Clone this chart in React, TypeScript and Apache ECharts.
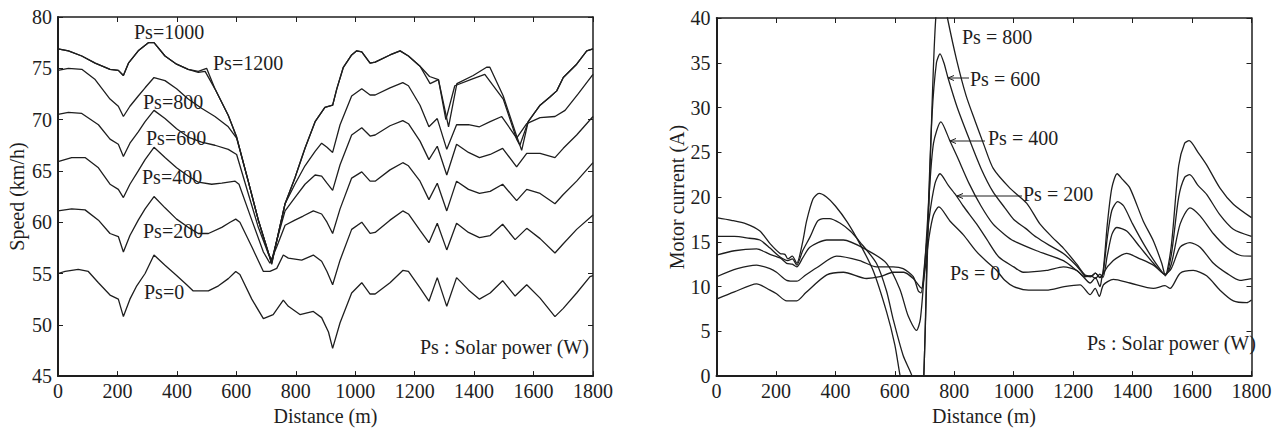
import React, { useEffect, useRef } from "react";
import * as echarts from "echarts";

const FONT = '"Liberation Serif", "Times New Roman", serif';
const INK = "#1e1e1e";

// ---------- Left chart: Speed (km/h) vs Distance (m) ----------
const speedTicksY = { min: 45, max: 80, interval: 5 };
const distanceTicks = { min: 0, max: 1800, interval: 200 };

const speedPs0: [number, number][] = [[0,55.0],[24,55.2],[68,55.4],[102,55.2],[136,54.1],[175,52.9],[203,52.5],[220,50.8],[242,52.5],[265,53.8],[293,55.0],[323,56.8],[360,55.8],[399,54.8],[433,53.9],[455,53.3],[506,53.3],[540,53.8],[573,54.5],[598,55.2],[612,54.9],[652,52.5],[691,50.6],[724,51.0],[758,52.4],[775,51.8],[814,51.0],[859,51.3],[887,50.7],[910,49.3],[924,47.7],[949,50.2],[988,53.1],[1022,54.1],[1050,53.0],[1067,53.0],[1117,54.1],[1160,55.3],[1179,55.2],[1218,53.6],[1248,52.3],[1276,54.6],[1308,51.8],[1341,54.6],[1381,53.4],[1418,52.5],[1454,53.1],[1496,54.3],[1538,52.8],[1577,53.9],[1622,52.6],[1672,50.8],[1700,51.6],[1745,53.1],[1790,54.7],[1800,54.8]];
const speedPs200: [number, number][] = [[0,61.1],[46,61.3],[91,61.2],[136,60.2],[175,58.9],[203,58.6],[220,57.1],[242,58.7],[270,60.2],[293,61.3],[323,62.5],[360,61.4],[399,60.3],[438,59.5],[472,58.9],[506,58.9],[551,59.5],[579,60.0],[598,60.3],[612,60.0],[652,57.6],[691,55.2],[713,55.2],[736,55.5],[758,56.8],[775,56.5],[820,56.3],[859,56.8],[887,56.2],[905,55.2],[924,53.9],[949,56.3],[988,59.3],[1022,60.0],[1050,58.9],[1067,59.0],[1117,60.2],[1160,61.1],[1179,60.8],[1218,59.2],[1248,58.0],[1276,59.9],[1308,57.3],[1341,59.9],[1381,59.0],[1418,58.5],[1454,58.7],[1496,59.8],[1538,58.3],[1577,59.4],[1622,58.4],[1672,57.0],[1700,57.9],[1745,59.3],[1800,60.7]];
const speedPs400: [number, number][] = [[0,65.9],[46,66.3],[91,66.3],[136,65.3],[175,63.7],[203,63.2],[220,62.4],[242,63.7],[270,65.0],[293,66.1],[323,67.3],[360,66.3],[399,65.3],[438,64.5],[472,63.9],[517,63.7],[551,63.8],[596,64.0],[609,63.7],[652,60.2],[691,57.1],[713,56.0],[736,57.6],[764,59.7],[797,60.2],[825,60.6],[859,61.1],[887,60.8],[905,60.0],[924,58.9],[949,61.3],[988,64.3],[1022,64.9],[1050,64.0],[1067,64.0],[1117,65.1],[1160,65.8],[1179,65.5],[1218,64.0],[1248,62.2],[1276,63.8],[1308,61.1],[1341,64.0],[1381,63.2],[1418,62.8],[1454,63.0],[1496,63.7],[1543,62.1],[1577,63.2],[1622,62.8],[1672,61.8],[1700,62.7],[1745,64.0],[1800,65.8]];
const speedPs600: [number, number][] = [[0,70.5],[35,70.7],[80,70.6],[136,69.5],[175,68.1],[203,67.6],[220,66.4],[242,67.7],[270,68.8],[293,69.8],[323,70.9],[360,70.1],[399,69.1],[438,68.3],[483,67.8],[528,67.5],[573,67.1],[601,66.6],[640,62.8],[674,59.5],[708,56.9],[719,56.3],[736,58.2],[764,61.1],[797,62.4],[831,63.7],[865,64.6],[887,64.5],[905,63.8],[924,63.1],[949,65.6],[988,68.5],[1022,69.2],[1050,68.4],[1067,68.5],[1117,69.4],[1160,69.9],[1179,69.6],[1218,67.9],[1248,66.1],[1276,67.4],[1308,64.6],[1341,67.6],[1381,66.8],[1418,66.3],[1454,66.6],[1496,67.2],[1543,65.4],[1577,66.7],[1622,66.7],[1672,66.3],[1700,67.2],[1745,68.5],[1800,70.3]];
const speedPs800: [number, number][] = [[0,74.8],[35,75.0],[80,74.9],[125,73.9],[175,72.0],[203,71.3],[220,70.3],[242,71.3],[270,72.3],[293,73.1],[323,74.1],[360,73.8],[399,73.0],[438,72.0],[483,71.1],[528,70.3],[573,69.3],[601,68.2],[640,64.0],[674,60.2],[708,57.0],[719,56.1],[736,58.2],[764,61.8],[797,63.7],[831,65.5],[865,66.9],[887,67.7],[905,67.3],[924,66.8],[949,69.5],[988,72.3],[1022,73.0],[1050,72.4],[1067,72.4],[1117,73.1],[1160,73.6],[1179,73.3],[1218,71.4],[1248,69.3],[1276,70.1],[1308,67.1],[1341,69.5],[1381,69.5],[1418,69.3],[1454,69.8],[1493,70.3],[1543,68.2],[1577,69.6],[1622,70.2],[1672,70.3],[1706,70.9],[1750,72.5],[1800,74.4]];
const speedPs1000: [number, number][] = [[0,76.9],[35,76.7],[80,76.2],[125,75.5],[175,74.9],[203,74.8],[220,74.3],[237,75.5],[270,76.7],[304,77.5],[323,77.5],[360,76.2],[399,75.4],[438,74.9],[472,74.6],[495,74.7],[528,73.0],[573,70.4],[601,68.3],[640,64.0],[674,60.2],[708,57.0],[719,55.9],[736,58.2],[764,61.8],[797,64.3],[831,67.2],[865,69.8],[898,71.2],[924,71.4],[938,73.0],[960,75.1],[988,76.3],[1005,76.7],[1022,76.6],[1050,75.5],[1067,75.6],[1117,76.3],[1151,76.7],[1179,76.2],[1218,75.2],[1252,73.5],[1280,73.9],[1314,69.3],[1342,73.5],[1397,74.3],[1442,75.1],[1453,75.1],[1498,72.3],[1543,68.4],[1560,67.0],[1582,69.8],[1622,71.4],[1655,72.2],[1678,72.8],[1700,74.1],[1745,75.4],[1779,76.7],[1800,76.9]];
const speedPs1200: [number, number][] = [[0,76.9],[35,76.7],[80,76.2],[125,75.5],[175,74.9],[203,74.8],[220,74.3],[237,75.5],[270,76.7],[304,77.5],[323,77.5],[360,76.2],[399,75.4],[438,74.9],[472,74.7],[500,75.0],[528,73.0],[573,70.4],[601,68.3],[640,64.0],[674,60.2],[708,57.0],[719,56.0],[736,58.2],[764,61.8],[797,64.3],[831,67.2],[865,69.8],[898,71.2],[924,71.4],[938,73.0],[960,75.1],[988,76.3],[1005,76.7],[1022,76.6],[1050,75.5],[1067,75.6],[1117,76.3],[1151,76.7],[1179,76.2],[1218,75.2],[1250,74.2],[1280,73.9],[1305,70.0],[1335,73.3],[1397,74.0],[1436,74.4],[1498,72.0],[1543,68.1],[1554,67.5],[1582,69.8],[1622,71.4],[1655,72.2],[1678,72.8],[1700,74.1],[1745,75.4],[1779,76.7],[1800,76.9]];

// ---------- Right chart: Motor current (A) vs Distance (m) ----------
const currentTicksY = { min: 0, max: 40, interval: 5 };

const currentPs800: [number, number][] = [[0,17.7],[50,17.4],[100,17.0],[146,16.2],[180,14.8],[214,13.7],[230,13.6],[240,13.1],[255,13.4],[270,12.6],[290,15.0],[303,17.3],[325,19.8],[345,20.4],[370,20.0],[400,19.0],[440,17.2],[482,14.8],[527,11.8],[572,7.2],[600,3.5],[618,0],[650,-5],[680,-8],[695,-2],[710,14],[725,30],[740,41],[760,43],[777,40],[808,35.3],[840,31.3],[870,28.5],[900,25.8],[931,23.2],[987,21.0],[1044,19.3],[1088,17.0],[1130,15.5],[1167,14.3],[1212,12.5],[1240,11.3],[1260,11.2],[1275,11.5],[1290,11.0],[1300,11.5],[1315,17.0],[1330,21.0],[1348,22.6],[1365,22.0],[1391,21.0],[1436,17.3],[1470,15.1],[1498,12.6],[1510,11.2],[1530,14.5],[1555,23.5],[1575,26.0],[1590,26.3],[1620,25.0],[1649,23.6],[1694,21.0],[1739,19.2],[1800,17.7]];
const currentPs600: [number, number][] = [[0,15.6],[60,15.6],[110,15.4],[146,15.2],[180,14.3],[214,13.3],[240,12.9],[255,13.1],[270,12.4],[290,14.0],[314,15.5],[340,17.3],[359,17.6],[380,17.6],[415,17.1],[450,16.2],[482,15.0],[538,12.6],[572,9.5],[594,6.4],[628,2.3],[658,0],[680,-3],[695,-2],[710,16],[725,29],[740,35],[752,36],[765,35],[779,33.3],[810,30.0],[850,26.5],[890,23.2],[930,20.6],[970,18.8],[1000,17.5],[1040,16.5],[1077,15.5],[1120,14.6],[1167,13.7],[1212,12.3],[1240,11.2],[1260,11.1],[1275,11.5],[1290,11.0],[1300,11.4],[1315,15.5],[1330,18.5],[1350,19.5],[1370,19.0],[1400,17.0],[1440,14.6],[1480,12.5],[1510,11.3],[1530,13.5],[1555,20.0],[1575,22.2],[1592,22.5],[1620,21.3],[1649,20.3],[1694,18.0],[1739,16.4],[1800,15.6]];
const currentPs400: [number, number][] = [[0,13.5],[60,14.0],[135,14.2],[180,13.6],[214,13.2],[236,12.6],[255,12.5],[270,12.2],[290,13.2],[314,14.4],[371,15.2],[427,15.2],[505,14.1],[572,12.6],[617,9.7],[645,6.7],[673,5.1],[686,6.4],[700,12],[715,20],[730,26],[755,28.4],[785,26.3],[810,24.5],[850,21.5],[890,19.0],[930,17.0],[970,15.8],[1000,15.1],[1077,14.0],[1167,12.9],[1212,11.8],[1240,11.1],[1260,11.2],[1275,10.9],[1290,11.4],[1300,11.0],[1315,13.5],[1330,15.8],[1346,16.6],[1380,16.2],[1425,14.4],[1470,12.6],[1510,11.3],[1530,12.5],[1560,17.0],[1593,18.8],[1627,17.9],[1672,15.9],[1716,14.4],[1761,13.5],[1800,13.4]];
const currentPs200: [number, number][] = [[0,11.1],[70,12.0],[135,12.4],[180,12.0],[202,11.6],[236,10.7],[270,10.6],[300,11.3],[337,12.1],[404,13.4],[482,12.9],[538,12.2],[594,12.2],[628,12.0],[662,11.1],[679,9.5],[688,9.3],[700,12.5],[715,17.5],[735,21.5],[752,22.6],[780,21.3],[806,20.2],[830,19.0],[875,17.0],[909,15.3],[950,13.3],[1000,12.2],[1032,11.6],[1111,11.8],[1167,12.2],[1212,11.8],[1234,11.1],[1257,10.4],[1275,11.0],[1290,10.0],[1300,11.4],[1335,12.9],[1380,13.7],[1425,13.1],[1470,12.4],[1509,11.4],[1530,12.0],[1560,14.4],[1593,14.9],[1627,14.4],[1672,12.6],[1716,11.5],[1761,10.7],[1800,10.9]];
const currentPs0: [number, number][] = [[0,8.6],[60,9.4],[135,10.3],[180,9.6],[202,9.2],[236,8.4],[270,8.4],[300,9.3],[371,11.3],[427,11.6],[505,10.9],[550,11.1],[594,11.6],[630,11.6],[662,10.9],[690,9.8],[700,11.5],[715,15.5],[730,18.0],[748,18.9],[786,17.3],[830,15.8],[875,13.9],[909,12.8],[940,11.9],[970,10.7],[1000,10.0],[1050,9.6],[1110,9.6],[1170,10.0],[1223,10.2],[1257,9.1],[1274,9.8],[1288,8.9],[1302,10.2],[1335,10.8],[1391,10.4],[1470,9.8],[1509,10.1],[1526,9.8],[1560,11.5],[1604,11.8],[1649,11.2],[1694,9.6],[1739,8.4],[1784,8.2],[1800,8.5]];

const speedSeries = [speedPs0, speedPs200, speedPs400, speedPs600, speedPs800, speedPs1000, speedPs1200];
const speedNames = ["Ps=0", "Ps=200", "Ps=400", "Ps=600", "Ps=800", "Ps=1000", "Ps=1200"];
const currentSeries = [currentPs0, currentPs200, currentPs400, currentPs600, currentPs800];
const currentNames = ["Ps = 0", "Ps = 200", "Ps = 400", "Ps = 600", "Ps = 800"];

const FS = 20;
const textStyle = { color: INK, fontFamily: FONT, fontSize: FS };
const plain = (v: number) => String(v);

function xAxes(gridIndex: number) {
  return [
    {
      gridIndex, type: "value", position: "bottom", ...distanceTicks,
      name: "Distance (m)", nameLocation: "middle", nameGap: 26,
      nameTextStyle: textStyle,
      axisLine: { onZero: false, lineStyle: { color: INK, width: 2 } },
      axisTick: { inside: true, length: 5, lineStyle: { color: INK, width: 1 } },
      axisLabel: { ...textStyle, margin: 5, formatter: plain },
      splitLine: { show: false },
    },
    {
      gridIndex, type: "value", position: "top", ...distanceTicks,
      axisLine: { onZero: false, lineStyle: { color: INK, width: 1.5 } },
      axisTick: { inside: true, length: 5, lineStyle: { color: INK, width: 1 } },
      axisLabel: { show: false },
      splitLine: { show: false },
    },
  ];
}

function yAxes(gridIndex: number, ticks: any, name: string, gap: number) {
  return [
    {
      gridIndex, type: "value", position: "left", ...ticks,
      name, nameLocation: "middle", nameGap: gap, nameRotate: 90,
      nameTextStyle: textStyle,
      axisLine: { onZero: false, lineStyle: { color: INK, width: 2 } },
      axisTick: { inside: true, length: 5, lineStyle: { color: INK, width: 1 } },
      axisLabel: { ...textStyle, margin: 6, formatter: plain },
      splitLine: { show: false },
    },
    {
      gridIndex, type: "value", position: "right", ...ticks,
      axisLine: { onZero: false, lineStyle: { color: INK, width: 1.5 } },
      axisTick: { inside: true, length: 5, lineStyle: { color: INK, width: 1 } },
      axisLabel: { show: false },
      splitLine: { show: false },
    },
  ];
}

function label(text: string, x: number, y: number) {
  return {
    type: "text", x, y, z: 100,
    style: { text, fill: INK, font: `${FS}px ${FONT}`, verticalAlign: "middle", align: "left" },
  };
}

function arrow(x1: number, x2: number, y: number) {
  return [
    { type: "line", z: 100, shape: { x1, y1: y, x2, y2: y }, style: { stroke: INK, lineWidth: 1 } },
    {
      type: "polyline", z: 100,
      shape: { points: [[x2 + 6, y - 2.5], [x2, y], [x2 + 6, y + 2.5]] },
      style: { stroke: INK, lineWidth: 1, fill: "none" },
    },
  ];
}

export default function App() {
  const ref = useRef<HTMLDivElement>(null);
  useEffect(() => {
    document.body.style.margin = "0";
    const chart = echarts.init(ref.current!, null, { renderer: "svg" });
    const lineStyle = { color: INK, width: 1.3 };
    const series: any[] = [];
    speedSeries.forEach((d, i) =>
      series.push({
        type: "line", name: speedNames[i], xAxisIndex: 0, yAxisIndex: 0,
        data: d, showSymbol: false, symbol: "none", lineStyle, clip: true,
      })
    );
    currentSeries.forEach((d, i) =>
      series.push({
        type: "line", name: currentNames[i], xAxisIndex: 2, yAxisIndex: 2,
        data: d, showSymbol: false, symbol: "none", lineStyle, clip: true,
        smooth: 0.25,
      })
    );
    chart.setOption({
      animation: false,
      backgroundColor: "#ffffff",
      grid: [
        { left: 58, top: 17, width: 535, height: 364.5 },
        { left: 716.5, top: 18, width: 535, height: 363.5 },
      ],
      xAxis: [...xAxes(0), ...xAxes(1)],
      yAxis: [
        ...yAxes(0, speedTicksY, "Speed (km/h)", 31),
        ...yAxes(1, currentTicksY, "Motor current (A)", 30),
      ],
      series,
      graphic: [
        label("Ps=1000", 134, 32),
        label("Ps=1200", 213, 63),
        label("Ps=800", 143, 102),
        label("Ps=600", 146, 138),
        label("Ps=400", 142, 177),
        label("Ps=200", 143, 231),
        label("Ps=0", 144, 292),
        label("Ps : Solar power (W)", 420, 347),
        label("Ps = 800", 962, 37),
        label("Ps = 600", 970, 79),
        label("Ps = 400", 988, 138),
        label("Ps = 200", 1023, 194),
        label("Ps = 0", 950, 273),
        label("Ps : Solar power (W)", 1087, 343),
        ...arrow(969, 948, 78),
        ...arrow(985, 950, 141),
        ...arrow(1022, 957, 196),
      ],
    });
    return () => chart.dispose();
  }, []);
  return <div ref={ref} style={{ width: 1276, height: 431 }} />;
}
